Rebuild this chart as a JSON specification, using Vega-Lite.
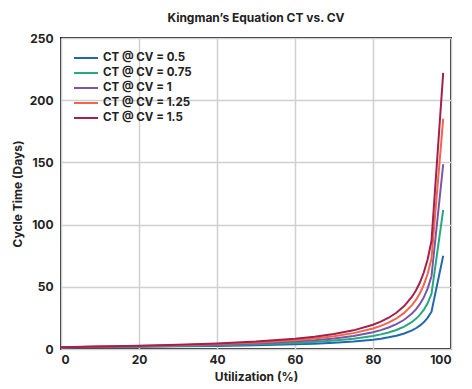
{
  "$schema": "https://vega.github.io/schema/vega-lite/v6.json",
  "width": 390,
  "height": 311,
  "autosize": {"type": "none"},
  "padding": {"left": 61, "top": 38, "right": 21, "bottom": 40},
  "config": {
    "font": "Inter",
    "view": {"stroke": "#222222", "strokeWidth": 2},
    "axis": {
      "domain": false,
      "ticks": false,
      "grid": true,
      "gridColor": "#d0d0d0",
      "gridWidth": 1.5,
      "labelFont": "Inter",
      "labelFontWeight": "bold",
      "labelFontSize": 12,
      "labelColor": "#222222",
      "titleFont": "Inter",
      "titleFontWeight": "bold",
      "titleFontSize": 12,
      "titleColor": "#222222"
    }
  },
  "title": {
    "text": "Kingman’s Equation CT vs. CV",
    "font": "Inter",
    "fontSize": 12,
    "fontWeight": "bold",
    "color": "#222222",
    "offset": 7
  },
  "data": {
    "values": [
      {"u": 0, "s": "CT @ CV = 0.5", "ct": 1.5},
      {"u": 10, "s": "CT @ CV = 0.5", "ct": 1.67},
      {"u": 20, "s": "CT @ CV = 0.5", "ct": 1.88},
      {"u": 30, "s": "CT @ CV = 0.5", "ct": 2.14},
      {"u": 40, "s": "CT @ CV = 0.5", "ct": 2.5},
      {"u": 50, "s": "CT @ CV = 0.5", "ct": 3.0},
      {"u": 60, "s": "CT @ CV = 0.5", "ct": 3.75},
      {"u": 65, "s": "CT @ CV = 0.5", "ct": 4.29},
      {"u": 70, "s": "CT @ CV = 0.5", "ct": 5.0},
      {"u": 75, "s": "CT @ CV = 0.5", "ct": 6.0},
      {"u": 80, "s": "CT @ CV = 0.5", "ct": 7.5},
      {"u": 82, "s": "CT @ CV = 0.5", "ct": 8.33},
      {"u": 84, "s": "CT @ CV = 0.5", "ct": 9.38},
      {"u": 86, "s": "CT @ CV = 0.5", "ct": 10.71},
      {"u": 88, "s": "CT @ CV = 0.5", "ct": 12.5},
      {"u": 90, "s": "CT @ CV = 0.5", "ct": 15.0},
      {"u": 91, "s": "CT @ CV = 0.5", "ct": 16.67},
      {"u": 92, "s": "CT @ CV = 0.5", "ct": 18.75},
      {"u": 93, "s": "CT @ CV = 0.5", "ct": 21.43},
      {"u": 94, "s": "CT @ CV = 0.5", "ct": 25.0},
      {"u": 95, "s": "CT @ CV = 0.5", "ct": 30.0},
      {"u": 98, "s": "CT @ CV = 0.5", "ct": 75.0},

      {"u": 0, "s": "CT @ CV = 0.75", "ct": 1.5},
      {"u": 10, "s": "CT @ CV = 0.75", "ct": 1.75},
      {"u": 20, "s": "CT @ CV = 0.75", "ct": 2.06},
      {"u": 30, "s": "CT @ CV = 0.75", "ct": 2.46},
      {"u": 40, "s": "CT @ CV = 0.75", "ct": 3.0},
      {"u": 50, "s": "CT @ CV = 0.75", "ct": 3.75},
      {"u": 60, "s": "CT @ CV = 0.75", "ct": 4.88},
      {"u": 65, "s": "CT @ CV = 0.75", "ct": 5.68},
      {"u": 70, "s": "CT @ CV = 0.75", "ct": 6.75},
      {"u": 75, "s": "CT @ CV = 0.75", "ct": 8.25},
      {"u": 80, "s": "CT @ CV = 0.75", "ct": 10.5},
      {"u": 82, "s": "CT @ CV = 0.75", "ct": 11.75},
      {"u": 84, "s": "CT @ CV = 0.75", "ct": 13.31},
      {"u": 86, "s": "CT @ CV = 0.75", "ct": 15.32},
      {"u": 88, "s": "CT @ CV = 0.75", "ct": 18.0},
      {"u": 90, "s": "CT @ CV = 0.75", "ct": 21.75},
      {"u": 91, "s": "CT @ CV = 0.75", "ct": 24.25},
      {"u": 92, "s": "CT @ CV = 0.75", "ct": 27.38},
      {"u": 93, "s": "CT @ CV = 0.75", "ct": 31.39},
      {"u": 94, "s": "CT @ CV = 0.75", "ct": 36.75},
      {"u": 95, "s": "CT @ CV = 0.75", "ct": 44.25},
      {"u": 98, "s": "CT @ CV = 0.75", "ct": 111.75},

      {"u": 0, "s": "CT @ CV = 1", "ct": 1.5},
      {"u": 10, "s": "CT @ CV = 1", "ct": 1.83},
      {"u": 20, "s": "CT @ CV = 1", "ct": 2.25},
      {"u": 30, "s": "CT @ CV = 1", "ct": 2.79},
      {"u": 40, "s": "CT @ CV = 1", "ct": 3.5},
      {"u": 50, "s": "CT @ CV = 1", "ct": 4.5},
      {"u": 60, "s": "CT @ CV = 1", "ct": 6.0},
      {"u": 65, "s": "CT @ CV = 1", "ct": 7.07},
      {"u": 70, "s": "CT @ CV = 1", "ct": 8.5},
      {"u": 75, "s": "CT @ CV = 1", "ct": 10.5},
      {"u": 80, "s": "CT @ CV = 1", "ct": 13.5},
      {"u": 82, "s": "CT @ CV = 1", "ct": 15.17},
      {"u": 84, "s": "CT @ CV = 1", "ct": 17.25},
      {"u": 86, "s": "CT @ CV = 1", "ct": 19.93},
      {"u": 88, "s": "CT @ CV = 1", "ct": 23.5},
      {"u": 90, "s": "CT @ CV = 1", "ct": 28.5},
      {"u": 91, "s": "CT @ CV = 1", "ct": 31.83},
      {"u": 92, "s": "CT @ CV = 1", "ct": 36.0},
      {"u": 93, "s": "CT @ CV = 1", "ct": 41.36},
      {"u": 94, "s": "CT @ CV = 1", "ct": 48.5},
      {"u": 95, "s": "CT @ CV = 1", "ct": 58.5},
      {"u": 98, "s": "CT @ CV = 1", "ct": 148.5},

      {"u": 0, "s": "CT @ CV = 1.25", "ct": 1.5},
      {"u": 10, "s": "CT @ CV = 1.25", "ct": 1.92},
      {"u": 20, "s": "CT @ CV = 1.25", "ct": 2.44},
      {"u": 30, "s": "CT @ CV = 1.25", "ct": 3.11},
      {"u": 40, "s": "CT @ CV = 1.25", "ct": 4.0},
      {"u": 50, "s": "CT @ CV = 1.25", "ct": 5.25},
      {"u": 60, "s": "CT @ CV = 1.25", "ct": 7.13},
      {"u": 65, "s": "CT @ CV = 1.25", "ct": 8.46},
      {"u": 70, "s": "CT @ CV = 1.25", "ct": 10.25},
      {"u": 75, "s": "CT @ CV = 1.25", "ct": 12.75},
      {"u": 80, "s": "CT @ CV = 1.25", "ct": 16.5},
      {"u": 82, "s": "CT @ CV = 1.25", "ct": 18.58},
      {"u": 84, "s": "CT @ CV = 1.25", "ct": 21.19},
      {"u": 86, "s": "CT @ CV = 1.25", "ct": 24.54},
      {"u": 88, "s": "CT @ CV = 1.25", "ct": 29.0},
      {"u": 90, "s": "CT @ CV = 1.25", "ct": 35.25},
      {"u": 91, "s": "CT @ CV = 1.25", "ct": 39.42},
      {"u": 92, "s": "CT @ CV = 1.25", "ct": 44.63},
      {"u": 93, "s": "CT @ CV = 1.25", "ct": 51.32},
      {"u": 94, "s": "CT @ CV = 1.25", "ct": 60.25},
      {"u": 95, "s": "CT @ CV = 1.25", "ct": 72.75},
      {"u": 98, "s": "CT @ CV = 1.25", "ct": 185.25},

      {"u": 0, "s": "CT @ CV = 1.5", "ct": 1.5},
      {"u": 10, "s": "CT @ CV = 1.5", "ct": 2.0},
      {"u": 20, "s": "CT @ CV = 1.5", "ct": 2.63},
      {"u": 30, "s": "CT @ CV = 1.5", "ct": 3.43},
      {"u": 40, "s": "CT @ CV = 1.5", "ct": 4.5},
      {"u": 50, "s": "CT @ CV = 1.5", "ct": 6.0},
      {"u": 60, "s": "CT @ CV = 1.5", "ct": 8.25},
      {"u": 65, "s": "CT @ CV = 1.5", "ct": 9.86},
      {"u": 70, "s": "CT @ CV = 1.5", "ct": 12.0},
      {"u": 75, "s": "CT @ CV = 1.5", "ct": 15.0},
      {"u": 80, "s": "CT @ CV = 1.5", "ct": 19.5},
      {"u": 82, "s": "CT @ CV = 1.5", "ct": 22.0},
      {"u": 84, "s": "CT @ CV = 1.5", "ct": 25.13},
      {"u": 86, "s": "CT @ CV = 1.5", "ct": 29.14},
      {"u": 88, "s": "CT @ CV = 1.5", "ct": 34.5},
      {"u": 90, "s": "CT @ CV = 1.5", "ct": 42.0},
      {"u": 91, "s": "CT @ CV = 1.5", "ct": 47.0},
      {"u": 92, "s": "CT @ CV = 1.5", "ct": 53.25},
      {"u": 93, "s": "CT @ CV = 1.5", "ct": 61.29},
      {"u": 94, "s": "CT @ CV = 1.5", "ct": 72.0},
      {"u": 95, "s": "CT @ CV = 1.5", "ct": 87.0},
      {"u": 98, "s": "CT @ CV = 1.5", "ct": 222.0}
    ]
  },
  "mark": {"type": "line", "strokeWidth": 2},
  "encoding": {
    "x": {
      "field": "u",
      "type": "quantitative",
      "scale": {"domain": [0, 100], "nice": false},
      "axis": {"values": [0, 20, 40, 60, 80, 100], "title": "Utilization (%)", "labelPadding": 5, "titlePadding": 6}
    },
    "y": {
      "field": "ct",
      "type": "quantitative",
      "scale": {"domain": [0, 250], "nice": false},
      "axis": {"values": [0, 50, 100, 150, 200, 250], "title": "Cycle Time (Days)", "labelPadding": 8, "titlePadding": 5}
    },
    "color": {
      "field": "s",
      "type": "nominal",
      "sort": ["CT @ CV = 0.5", "CT @ CV = 0.75", "CT @ CV = 1", "CT @ CV = 1.25", "CT @ CV = 1.5"],
      "scale": {"range": ["#2268ad", "#26a97f", "#7b56a6", "#f0664d", "#a3214b"]},
      "legend": {
        "title": null,
        "orient": "none",
        "legendX": 19,
        "legendY": 14,
        "symbolType": "M-2.4,0H2.4",
        "symbolSize": 100,
        "symbolStrokeWidth": 2,
        "symbolFillColor": "transparent",
        "labelFont": "Inter",
        "labelFontWeight": "bold",
        "labelFontSize": 11.5,
        "labelColor": "#222222",
        "labelOffset": 11,
        "rowPadding": 3,
        "padding": 0
      }
    }
  }
}
